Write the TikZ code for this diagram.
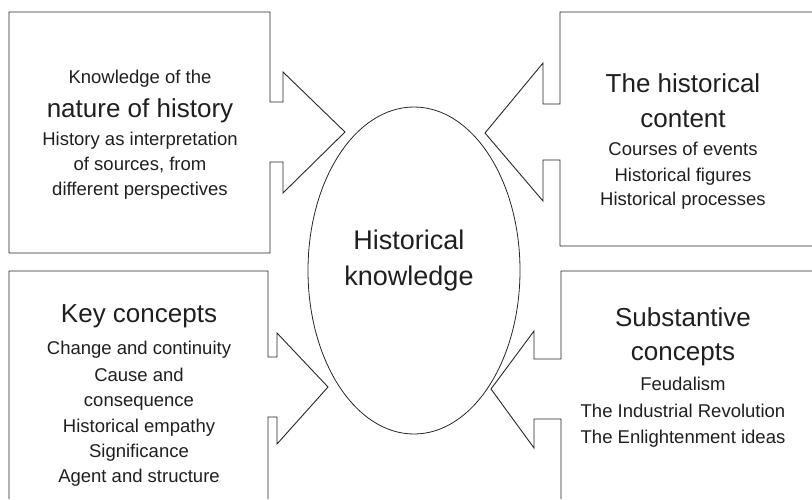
\documentclass[tikz,border=0pt]{standalone}
\usepackage{fontspec}
\setmainfont{Liberation Sans}
\usetikzlibrary{shapes.geometric}
\tikzset{
  outline/.style={draw=black!85, line width=0.9pt, line join=miter},
  bigtxt/.style={anchor=base, inner sep=0pt, text=black!88, font=\fontsize{26}{30}\selectfont},
  smalltxt/.style={anchor=base, inner sep=0pt, text=black!88, font=\fontsize{18.5}{24}\selectfont},
  hubtxt/.style={anchor=base, inner sep=0pt, text=black!88, font=\fontsize{27}{32}\selectfont},
  hub/.style={ellipse, draw=black!85, line width=0.8pt, inner sep=0pt,
              minimum width=212pt, minimum height=327pt}
}
\begin{document}
\begin{tikzpicture}[x=1pt, y=-1pt]
\useasboundingbox (0,0) rectangle (812,499);

% central ellipse
\node[hub] (hk) at (414,270.5) {};
\node[hubtxt] (hk1) at (409,249) {Historical};
\node[hubtxt] (hk2) at (409,285) {knowledge};

% top-left callout box, arrow pointing right
\draw[outline] (9,253) -- (9,12) -- (270,12) -- (270,102) -- (283,102) -- (283,72)
  -- (345,132) -- (283,193) -- (283,162) -- (270,162) -- (270,253) -- cycle;
\node[smalltxt] (tl1) at (140,83) {Knowledge of the};
\node[bigtxt]   (tl2) at (140,117) {nature of history};
\node[smalltxt] (tl3) at (140,145) {History as interpretation};
\node[smalltxt] (tl4) at (140,170) {of sources, from};
\node[smalltxt] (tl5) at (140,195) {different perspectives};

% top-right callout box, arrow pointing left
\draw[outline] (812,12) -- (560,12) -- (560,104) -- (543,104) -- (543,63)
  -- (485,133) -- (543,201) -- (543,160) -- (560,160) -- (560,246) -- (812,246);
\node[bigtxt]   (tr1) at (683,92) {The historical};
\node[bigtxt]   (tr2) at (683,127) {content};
\node[smalltxt] (tr3) at (683,155) {Courses of events};
\node[smalltxt] (tr4) at (683,181) {Historical figures};
\node[smalltxt] (tr5) at (683,205) {Historical processes};

% bottom-left callout box, arrow pointing right
\draw[outline] (9,499) -- (9,271) -- (268,271) -- (268,357) -- (277,357) -- (277,333)
  -- (328,387) -- (277,444) -- (277,417) -- (268,417) -- (268,499);
\node[bigtxt]   (bl1) at (139,322) {Key concepts};
\node[smalltxt] (bl2) at (139,354) {Change and continuity};
\node[smalltxt] (bl3) at (139,381) {Cause and};
\node[smalltxt] (bl4) at (139,406) {consequence};
\node[smalltxt] (bl5) at (139,432) {Historical empathy};
\node[smalltxt] (bl6) at (139,457) {Significance};
\node[smalltxt] (bl7) at (139,482) {Agent and structure};

% bottom-right callout box, arrow pointing left
\draw[outline] (812,271) -- (561,271) -- (561,359) -- (534,359) -- (534,331)
  -- (491,389) -- (534,448) -- (534,419) -- (561,419) -- (561,499);
\node[bigtxt]   (br1) at (683,326) {Substantive};
\node[bigtxt]   (br2) at (683,360) {concepts};
\node[smalltxt] (br3) at (683,390) {Feudalism};
\node[smalltxt] (br4) at (683,417) {The Industrial Revolution};
\node[smalltxt] (br5) at (683,443) {The Enlightenment ideas};
\end{tikzpicture}
\end{document}
